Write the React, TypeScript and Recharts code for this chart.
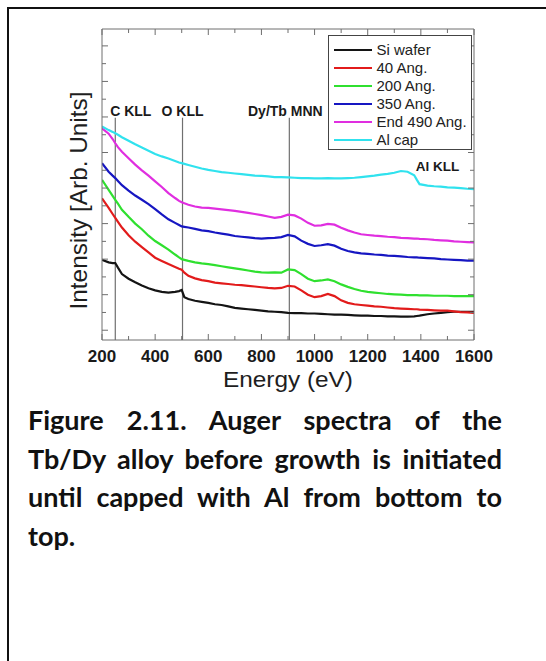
import React from 'react';
import { LineChart, Line, XAxis, YAxis, ReferenceLine, ReferenceDot, Legend, Label } from 'recharts';

// Shared energy grid (eV); denser around the sharp C KLL, O KLL and Al KLL features
const ENERGY_EV = [
  200, 225, 240, 250, 260, 275,
  300, 325, 350, 375, 400, 425, 450, 475,
  490, 500, 510,
  525, 550, 575, 600, 625, 650, 675, 700, 725, 750, 775, 800, 825, 850, 875, 900, 925, 950, 975,
  1000, 1025, 1050, 1075, 1100, 1125, 1150, 1175, 1200, 1225, 1250, 1275, 1300, 1325, 1350, 1375,
  1385, 1395,
  1425, 1450, 1475, 1500, 1525, 1550, 1575, 1600,
];

// Intensities in arbitrary units, one array per spectrum
const SI_WAFER = [
  19.8, 19.1, 18.9, 18.9, 17.6, 15.8,
  14.5, 13.5, 12.6, 11.8, 11.2, 10.8, 10.6, 10.8,
  11.0, 11.3, 9.3,
  8.8, 8.3, 8.0, 7.7, 7.3, 7.1, 6.7, 6.3, 6.1, 5.9, 5.7, 5.5, 5.3, 5.2, 5.1, 4.9, 4.8, 4.8, 4.7,
  4.7, 4.6, 4.5, 4.4, 4.4, 4.3, 4.2, 4.1, 4.1, 4.0, 4.0, 3.9, 3.9, 3.8, 3.8, 3.9,
  4.0, 4.1,
  4.5, 4.7, 4.9, 5.1, 5.2, 5.2, 5.2, 5.2,
];

const ANG_40 = [
  37.1, 34.4, 32.7, 31.6, 30.5, 28.9,
  26.7, 24.9, 23.4, 21.9, 20.4, 19.5, 18.6, 17.8,
  17.3, 17.0, 16.2,
  15.3, 14.6, 14.1, 13.8, 13.4, 13.2, 13.0, 12.8, 12.7, 12.5, 12.3, 12.1, 11.9, 11.8, 11.9, 12.5, 12.3, 11.2, 10.0,
  9.3, 9.6, 10.2, 9.6, 8.4, 7.7, 7.3, 7.1, 6.9, 6.7, 6.6, 6.4, 6.2, 6.1, 6.0, 5.9,
  5.9, 5.8,
  5.7, 5.6, 5.5, 5.5, 5.3, 5.1, 5.0, 4.9,
];

const ANG_200 = [
  42.3, 39.5, 37.8, 36.7, 35.6, 33.9,
  31.9, 30.0, 28.4, 26.6, 25.1, 23.9, 22.7, 21.3,
  20.5, 20.0, 19.8,
  19.5, 19.1, 18.8, 18.6, 18.3, 18.0, 17.7, 17.4, 17.1, 16.8, 16.5, 16.3, 16.2, 16.3, 16.2, 17.1, 16.9, 15.8, 14.5,
  13.8, 14.0, 14.3, 13.8, 12.9, 12.2, 11.6, 11.1, 10.8, 10.6, 10.4, 10.2, 10.1, 10.0, 9.9, 9.9,
  9.9, 9.8,
  9.8, 9.7, 9.7, 9.7, 9.6, 9.6, 9.6, 9.6,
];

const ANG_350 = [
  47.0, 44.6, 43.5, 42.8, 42.0, 40.8,
  39.3, 37.9, 36.7, 35.5, 34.1, 32.6, 31.2, 30.2,
  29.6, 29.2, 29.1,
  28.9, 28.5, 28.1, 27.9, 27.5, 27.2, 26.9, 26.5, 26.3, 26.1, 25.9, 25.8, 25.9, 26.0, 26.2, 26.8, 26.4, 25.2, 24.3,
  23.7, 23.9, 24.2, 23.8, 22.9, 22.3, 21.9, 21.6, 21.5, 21.3, 21.2, 21.0, 20.9, 20.8, 20.6, 20.5,
  20.5, 20.4,
  20.3, 20.2, 20.0, 19.9, 19.8, 19.7, 19.6, 19.6,
];

const ANG_490_END = [
  56.8, 55.3, 53.8, 52.6, 51.5, 50.2,
  48.4, 46.6, 45.0, 43.5, 41.9, 40.3, 38.6, 37.2,
  36.4, 36.0, 35.7,
  35.3, 34.8, 34.5, 34.4, 34.2, 34.0, 33.8, 33.6, 33.3, 33.0, 32.7, 32.4, 32.0, 31.6, 31.9, 32.5, 32.3, 31.4, 30.2,
  29.4, 29.5, 29.9, 29.7, 28.8, 28.1, 27.5, 27.0, 26.8, 26.6, 26.5, 26.3, 26.2, 26.0, 25.9, 25.8,
  25.8, 25.7,
  25.6, 25.4, 25.3, 25.2, 25.0, 24.9, 24.8, 24.7,
];

const AL_CAP = [
  57.3, 56.3, 55.8, 55.4, 55.0, 54.3,
  53.3, 52.3, 51.4, 50.5, 49.6, 48.9, 48.3, 47.6,
  47.2, 47.0, 46.8,
  46.5, 46.0, 45.5, 45.1, 44.8, 44.5, 44.3, 44.1, 43.9, 43.7, 43.5, 43.4, 43.3, 43.1, 43.1, 43.0, 42.9, 42.8, 42.8,
  42.7, 42.7, 42.8, 42.7, 42.7, 42.8, 42.9, 43.1, 43.3, 43.5, 43.8, 44.0, 44.3, 44.8, 44.6, 43.6,
  42.3, 41.1,
  40.7, 40.5, 40.4, 40.2, 40.1, 40.0, 39.8, 39.7,
];

const SERIES_NAMES = ['Si wafer', '40 Ang.', '200 Ang.', '350 Ang.', 'End 490 Ang.', 'Al cap'];
const SERIES_COLORS = ['#141414', '#e21b1b', '#2fe02f', '#1616c2', '#e02ee0', '#30e2ee'];
const SERIES_VALUES = [SI_WAFER, ANG_40, ANG_200, ANG_350, ANG_490_END, AL_CAP];

const X_TICKS = [200, 300, 400, 500, 600, 700, 800, 900, 1000, 1100, 1200, 1300, 1400, 1500, 1600];
const X_TICK_LABELS = ['200', '400', '600', '800', '1000', '1200', '1400', '1600'];
const Y_TICKS = [0, 5, 10, 15, 20, 25, 30, 35, 40, 45, 50, 55, 60, 65, 70, 75, 80];
const Y_DOMAIN = [-2.75, 84.75];

// Auger transitions marked with vertical guide lines
const PEAK_LINES = [
  { energy: 250, label: 'C KLL', dx: 15.5 },
  { energy: 503, label: 'O KLL', dx: 0 },
  { energy: 905, label: 'Dy/Tb MNN', dx: -4 },
];
const PEAK_LINE_TOP = 59.8;
const AL_KLL = { energy: 1463, level: 46.1, label: 'Al KLL' };

const CAPTION_LINES = [
  'Figure 2.11. Auger spectra of the',
  'Tb/Dy alloy before growth is initiated',
  'until capped with Al from bottom to',
  'top.',
];

const rows = ENERGY_EV.map((e, i) => {
  const r: Record<string, number> = { energy: e };
  SERIES_VALUES.forEach((vals, k) => {
    r['s' + k] = vals[i];
  });
  return r;
});

const CHART_W = 546;
const CHART_H = 400;
// axes are 1px thick, so the plot area spans x 102..474, y 29..340
const MARGIN = { top: 28, right: 71, bottom: 59, left: 101 };
const PLOT_L = 102;
const PLOT_R = 474;
const PLOT_T = 29;
const PLOT_B = 340;
const AXIS = '#6e6e6e';
const FONT = '"Liberation Sans", Arial, Helvetica, sans-serif';

const isMajorX = (v: number) => X_TICK_LABELS.includes(String(v));
const isMajorY = (v: number) => v % 10 === 0;

const BottomTick = (p: any) => {
  const v = p.payload.value;
  const major = isMajorX(v);
  return (
    <g>
      <line x1={p.x} x2={p.x} y1={PLOT_B} y2={PLOT_B - (major ? 6 : 4)} stroke={AXIS} strokeWidth={1} />
      {major && (
        <text x={p.x} y={PLOT_B + 22} textAnchor="middle" fontSize={17} fontWeight="bold" fill="#1a1a1a" fontFamily={FONT}>
          {v}
        </text>
      )}
    </g>
  );
};

const TopTick = (p: any) => {
  const major = isMajorX(p.payload.value);
  return <line x1={p.x} x2={p.x} y1={PLOT_T} y2={PLOT_T + (major ? 6 : 4)} stroke={AXIS} strokeWidth={1} />;
};

const LeftTick = (p: any) => {
  const major = isMajorY(p.payload.value);
  return <line x1={PLOT_L} x2={PLOT_L + (major ? 6 : 4)} y1={p.y} y2={p.y} stroke={AXIS} strokeWidth={1} />;
};

const RightTick = (p: any) => {
  const major = isMajorY(p.payload.value);
  return <line x1={PLOT_R} x2={PLOT_R - (major ? 6 : 4)} y1={p.y} y2={p.y} stroke={AXIS} strokeWidth={1} />;
};

const XTitle = () => (
  <text x={(PLOT_L + PLOT_R) / 2} y={PLOT_B + 47} textAnchor="middle" fontSize={22} fill="#1e1e1e" fontFamily={FONT} textLength={130} lengthAdjust="spacingAndGlyphs">
    Energy (eV)
  </text>
);

const YTitle = () => {
  const x = PLOT_L - 15;
  const y = (PLOT_T + PLOT_B) / 2 + 16;
  return (
    <text x={x} y={y} transform={`rotate(-90, ${x}, ${y})`} textAnchor="middle" fontSize={24} fill="#1e1e1e" fontFamily={FONT} textLength={218} lengthAdjust="spacingAndGlyphs">
      Intensity [Arb. Units]
    </text>
  );
};

const peakLabel = (text: string, dx: number) => (p: any) => {
  const vb = p.viewBox;
  return (
    <text x={vb.x + dx} y={vb.y - 1.5} textAnchor="middle" fontSize={14} fontWeight="bold" fill="#1a1a1a" fontFamily={FONT}>
      {text}
    </text>
  );
};

const alLabel = (p: any) => {
  const vb = p.viewBox;
  return (
    <text x={vb.x + vb.width / 2} y={vb.y + vb.height / 2 + 5} textAnchor="middle" fontSize={13.5} fontWeight="bold" fill="#1a1a1a" fontFamily={FONT}>
      {AL_KLL.label}
    </text>
  );
};

const LegendBox = (props: any) => {
  const payload = [...(props.payload || [])].sort(
    (a: any, b: any) => SERIES_NAMES.indexOf(a.value) - SERIES_NAMES.indexOf(b.value)
  );
  return (
    <div
      style={{
        width: 142,
        height: 108,
        paddingTop: 5,
        border: '1px solid #444',
        background: '#fff',
        fontFamily: FONT,
      }}
    >
      {payload.map((entry: any) => (
        <div key={entry.value} style={{ display: 'flex', alignItems: 'center', height: 18 }}>
          <span style={{ display: 'inline-block', marginLeft: 5, width: 38, height: 2.5, background: entry.color }} />
          <span style={{ marginLeft: 4.5, fontSize: 15, lineHeight: '18px', color: '#222', whiteSpace: 'nowrap' }}>{entry.value}</span>
        </div>
      ))}
    </div>
  );
};

export default function App() {
  return (
    <div style={{ position: 'absolute', left: 0, top: 0, width: 546, height: 661, background: '#fff', overflow: 'hidden' }}>
      <div
        style={{
          position: 'absolute',
          left: 7,
          top: 7,
          width: 600,
          height: 700,
          borderLeft: '2px solid #111',
          borderTop: '2px solid #111',
        }}
      />
      <div style={{ position: 'absolute', left: 0, top: 0 }}>
        <LineChart width={CHART_W} height={CHART_H} data={rows} margin={MARGIN}>
          <XAxis
            xAxisId="b"
            dataKey="energy"
            type="number"
            domain={[200, 1600]}
            ticks={X_TICKS}
            interval={0}
            height={1}
            tickLine={false}
            axisLine={{ stroke: AXIS }}
            tick={BottomTick}
            allowDataOverflow
          >
            <Label content={XTitle} />
          </XAxis>
          <XAxis
            xAxisId="t"
            orientation="top"
            dataKey="energy"
            type="number"
            domain={[200, 1600]}
            ticks={X_TICKS}
            interval={0}
            height={1}
            tickLine={false}
            axisLine={{ stroke: AXIS }}
            tick={TopTick}
            allowDataOverflow
          />
          <YAxis
            yAxisId="l"
            type="number"
            domain={Y_DOMAIN}
            ticks={Y_TICKS}
            interval={0}
            width={1}
            tickLine={false}
            axisLine={{ stroke: AXIS }}
            tick={LeftTick}
            allowDataOverflow
          >
            <Label content={YTitle} />
          </YAxis>
          <YAxis
            yAxisId="r"
            orientation="right"
            type="number"
            domain={Y_DOMAIN}
            ticks={Y_TICKS}
            interval={0}
            width={1}
            tickLine={false}
            axisLine={{ stroke: AXIS }}
            tick={RightTick}
            allowDataOverflow
          />
          {PEAK_LINES.map((pk) => (
            <ReferenceLine
              key={pk.label}
              xAxisId="b"
              yAxisId="l"
              segment={[
                { x: pk.energy, y: PEAK_LINE_TOP },
                { x: pk.energy, y: Y_DOMAIN[0] },
              ]}
              stroke="#707070"
              strokeWidth={1.2}
              label={peakLabel(pk.label, pk.dx)}
            />
          ))}
          <ReferenceDot xAxisId="b" yAxisId="l" x={AL_KLL.energy} y={AL_KLL.level} r={1} fill="none" stroke="none" label={alLabel} />
          {SERIES_VALUES.map((_, k) => (
            <Line
              key={SERIES_NAMES[k]}
              xAxisId="b"
              yAxisId="l"
              dataKey={'s' + k}
              name={SERIES_NAMES[k]}
              stroke={SERIES_COLORS[k]}
              strokeWidth={2.2}
              dot={false}
              type="linear"
              isAnimationActive={false}
            />
          ))}
          <Legend
            layout="vertical"
            align="center"
            verticalAlign="middle"
            wrapperStyle={{ left: 328, top: 35, width: 144 }}
            content={LegendBox}
          />
        </LineChart>
      </div>
      <div
        style={{
          position: 'absolute',
          left: 28,
          top: 401,
          width: 474,
          fontFamily: 'Lato, "Open Sans", sans-serif',
          fontWeight: 700,
          fontSize: 27,
          lineHeight: '38.7px',
          color: '#111',
        }}
      >
        {CAPTION_LINES.map((line, i) => (
          <div
            key={i}
            style={{
              textAlign: i < CAPTION_LINES.length - 1 ? 'justify' : 'left',
              textAlignLast: i < CAPTION_LINES.length - 1 ? 'justify' : 'left',
            }}
          >
            {line}
          </div>
        ))}
      </div>
    </div>
  );
}
